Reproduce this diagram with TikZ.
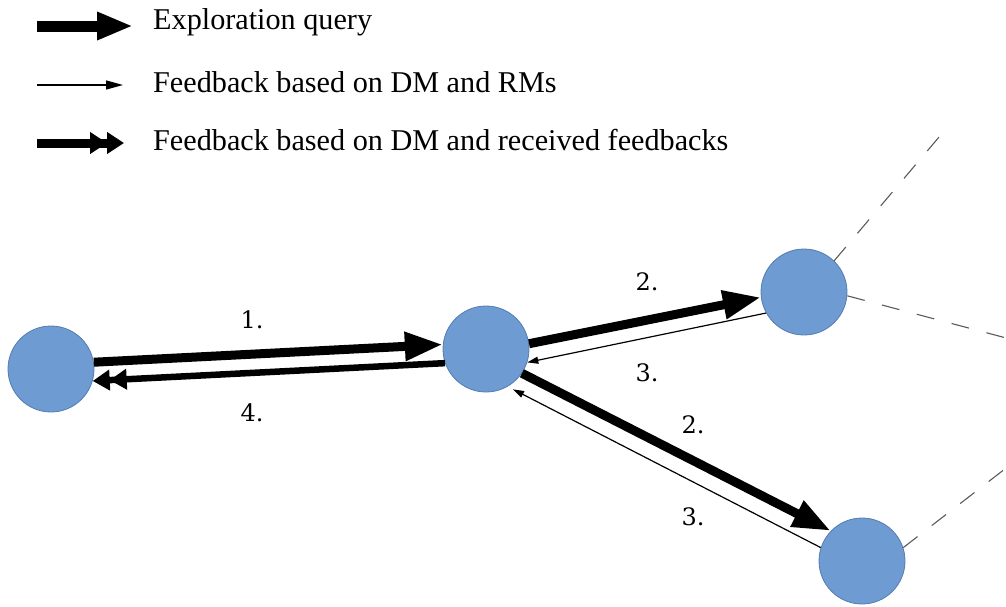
\documentclass[tikz,border=0pt]{standalone}
\usepackage{fontspec}
\setmainfont{Liberation Serif}
\newfontfamily\labfont{DejaVu Serif}
\usetikzlibrary{arrows.meta}
\definecolor{nodefill}{RGB}{110,155,209}
\definecolor{nodeline}{RGB}{84,124,178}
\definecolor{dashgray}{RGB}{90,90,90}
\tikzset{
  agent/.style={circle, fill=nodefill, draw=nodeline, line width=0.8pt, minimum size=86pt, inner sep=0pt},
  query/.style={line width=9pt, -{Triangle[length=38pt,width=27pt]}},
  fbthin/.style={line width=1.2pt, -{Triangle[length=11pt,width=7pt]}},
  fbdouble/.style={line width=6.5pt, -{Triangle[length=17pt,width=20pt,sep=0pt]Triangle[length=17pt,width=20pt]}},
  lquery/.style={line width=11pt, -{Triangle[length=36pt,width=26pt]}},
  lthin/.style={line width=1.3pt, -{Triangle[length=17pt,width=9pt]}},
  ldouble/.style={line width=9pt, -{Triangle[length=17pt,width=21pt,sep=0pt]Triangle[length=17pt,width=21pt]}},
  legtext/.style={anchor=west, inner sep=0pt, font=\fontsize{30.2}{35}\selectfont},
  numlab/.style={inner sep=0pt, font=\labfont\fontsize{24}{28}\selectfont},
  branch/.style={dashgray, line width=1.1pt, dash pattern=on 18pt off 18pt}
}
\begin{document}
\begin{tikzpicture}[x=1pt,y=-1pt]
\useasboundingbox (0,0) rectangle (1006,606);
% legend
\coordinate (l1s) at (37,26); \coordinate (l1e) at (133,26);
\coordinate (l2s) at (37,85); \coordinate (l2e) at (123,85);
\coordinate (l3s) at (37,143); \coordinate (l3e) at (124,143);
\draw[lquery] (l1s) -- (l1e);
\draw[lthin] (l2s) -- (l2e);
\draw[ldouble] (l3s) -- (l3e);
\node[legtext] (t1) at (153,22) {Exploration query};
\node[legtext] (t2) at (153,82) {Feedback based on DM and RMs};
\node[legtext] (t3) at (153,140) {Feedback based on DM and received feedbacks};
% agents
\node[agent] (A) at (51,369) {};
\node[agent] (B) at (486,349) {};
\node[agent] (C) at (804,292) {};
\node[agent] (D) at (862,561) {};
% branches
\coordinate (c1) at (945,130);
\coordinate (c2) at (1010,339);
\coordinate (d1) at (1010,465);
\draw[branch] (C.46) -- (c1);
\draw[branch] (C.-5) -- (c2);
\draw[branch] (D.18) -- (d1);
% arrows
\draw[query] (A.9) -- (B.174);
\draw[fbdouble] (B.199) -- (A.-16);
\draw[query] (B.7) -- (C.187);
\draw[fbthin] (C.209) -- (B.-18);
\draw[query] (B.-34) -- (D.136);
\draw[fbthin, shorten >=6pt] (D.162) -- (B.-60);
% labels
\node[numlab] (n1) at (252,320) {1.};
\node[numlab] (n4) at (252,413) {4.};
\node[numlab] (n2a) at (647,282) {2.};
\node[numlab] (n3a) at (647,373) {3.};
\node[numlab] (n2b) at (693,425) {2.};
\node[numlab] (n3b) at (693,517) {3.};
\end{tikzpicture}
\end{document}
